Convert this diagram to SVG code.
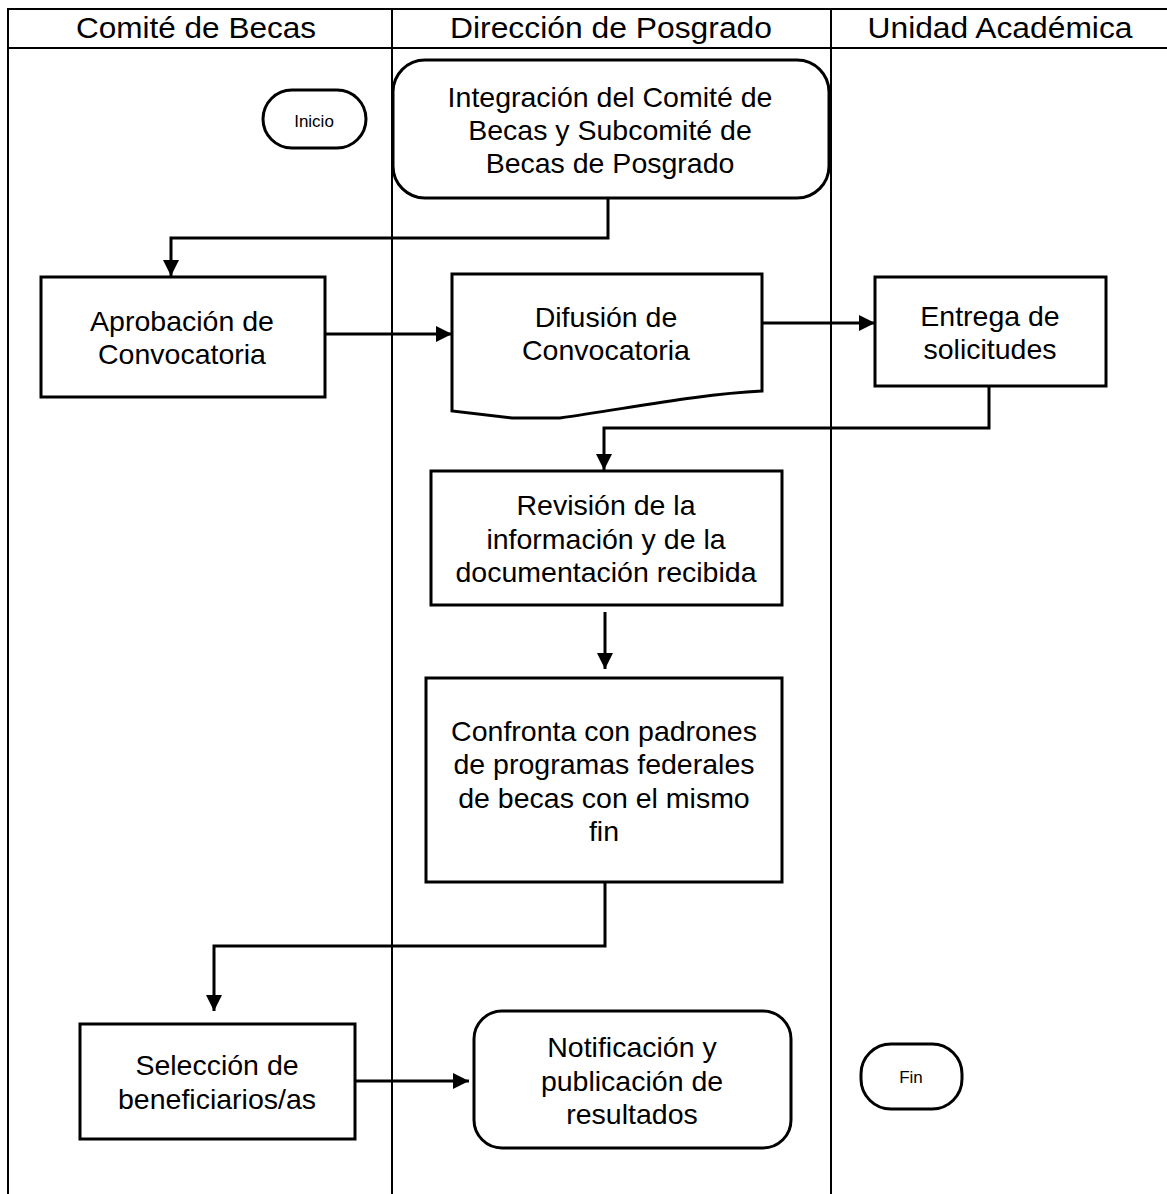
<svg xmlns="http://www.w3.org/2000/svg" width="1167" height="1194" viewBox="0 0 1167 1194">
<style>
.lane{stroke:#000;stroke-width:2;fill:none}
.node{fill:#fff;stroke:#000;stroke-width:3}
.conn{fill:none;stroke:#000;stroke-width:3}
.hdr{font-family:"Liberation Sans",Arial,sans-serif;font-size:30px;text-anchor:middle;fill:#000}
.t{font-family:"Liberation Sans",Arial,sans-serif;font-size:28.5px;text-anchor:middle;fill:#000}
.s{font-family:"Liberation Sans",Arial,sans-serif;font-size:17px;text-anchor:middle;fill:#000}
</style>
<defs>
<marker id="arr" markerUnits="userSpaceOnUse" markerWidth="18" markerHeight="18" refX="16" refY="8" orient="auto">
<path d="M0,0 L16,8 L0,16 Z" fill="#000"/>
</marker>
</defs>
<rect width="1167" height="1194" fill="#fff"/>
<g id="lanes">
<line class="lane" x1="7" y1="9" x2="1167" y2="9"/>
<line class="lane" x1="7" y1="48" x2="1167" y2="48"/>
<line class="lane" x1="8" y1="8" x2="8" y2="1194"/>
<line class="lane" x1="392" y1="8" x2="392" y2="1194"/>
<line class="lane" x1="831" y1="8" x2="831" y2="1194"/>
<text class="hdr" x="196" y="38" textLength="240" lengthAdjust="spacingAndGlyphs">Comité de Becas</text>
<text class="hdr" x="611" y="38" textLength="322" lengthAdjust="spacingAndGlyphs">Dirección de Posgrado</text>
<text class="hdr" x="1000" y="38" textLength="265" lengthAdjust="spacingAndGlyphs">Unidad Académica</text>
</g>
<g id="connectors">
<path class="conn" d="M608,198 V238 H171 V276" marker-end="url(#arr)"/>
<path class="conn" d="M325,334 H452" marker-end="url(#arr)"/>
<path class="conn" d="M762,323 H875" marker-end="url(#arr)"/>
<path class="conn" d="M989,387 V428 H604 V470" marker-end="url(#arr)"/>
<path class="conn" d="M605,612 V669" marker-end="url(#arr)"/>
<path class="conn" d="M605,882 V946 H214 V1011" marker-end="url(#arr)"/>
<path class="conn" d="M355,1081 H469" marker-end="url(#arr)"/>
</g>
<g id="inicio">
<rect class="node" x="263" y="90" width="103" height="58" rx="29" stroke-width="2"/>
<text class="s" x="314" y="127">Inicio</text>
</g>
<g id="integracion">
<rect class="node" x="393" y="60" width="436" height="138" rx="32"/>
<text class="t" x="610" y="107">Integración del Comité de</text>
<text class="t" x="610" y="140">Becas y Subcomité de</text>
<text class="t" x="610" y="173">Becas de Posgrado</text>
</g>
<g id="aprobacion">
<rect class="node" x="41" y="277" width="284" height="120"/>
<text class="t" x="182" y="331">Aprobación de</text>
<text class="t" x="182" y="364">Convocatoria</text>
</g>
<g id="difusion">
<path class="node" d="M452,274 H762 V391 C700,394 630,408 560,418 L512,418 L452,411 Z"/>
<text class="t" x="606" y="327">Difusión de</text>
<text class="t" x="606" y="360">Convocatoria</text>
</g>
<g id="entrega">
<rect class="node" x="875" y="277" width="231" height="109"/>
<text class="t" x="990" y="326">Entrega de</text>
<text class="t" x="990" y="359">solicitudes</text>
</g>
<g id="revision">
<rect class="node" x="431" y="471" width="351" height="134"/>
<text class="t" x="606" y="515">Revisión de la</text>
<text class="t" x="606" y="549">información y de la</text>
<text class="t" x="606" y="582">documentación recibida</text>
</g>
<g id="confronta">
<rect class="node" x="426" y="678" width="356" height="204"/>
<text class="t" x="604" y="741">Confronta con padrones</text>
<text class="t" x="604" y="774">de programas federales</text>
<text class="t" x="604" y="808">de becas con el mismo</text>
<text class="t" x="604" y="841">fin</text>
</g>
<g id="seleccion">
<rect class="node" x="80" y="1024" width="275" height="115"/>
<text class="t" x="217" y="1075">Selección de</text>
<text class="t" x="217" y="1109">beneficiarios/as</text>
</g>
<g id="notificacion">
<rect class="node" x="474" y="1011" width="317" height="137" rx="28"/>
<text class="t" x="632" y="1057">Notificación y</text>
<text class="t" x="632" y="1091">publicación de</text>
<text class="t" x="632" y="1124">resultados</text>
</g>
<g id="fin">
<rect class="node" x="861" y="1044" width="101" height="65" rx="30" stroke-width="2"/>
<text class="s" x="911" y="1083">Fin</text>
</g>
</svg>
